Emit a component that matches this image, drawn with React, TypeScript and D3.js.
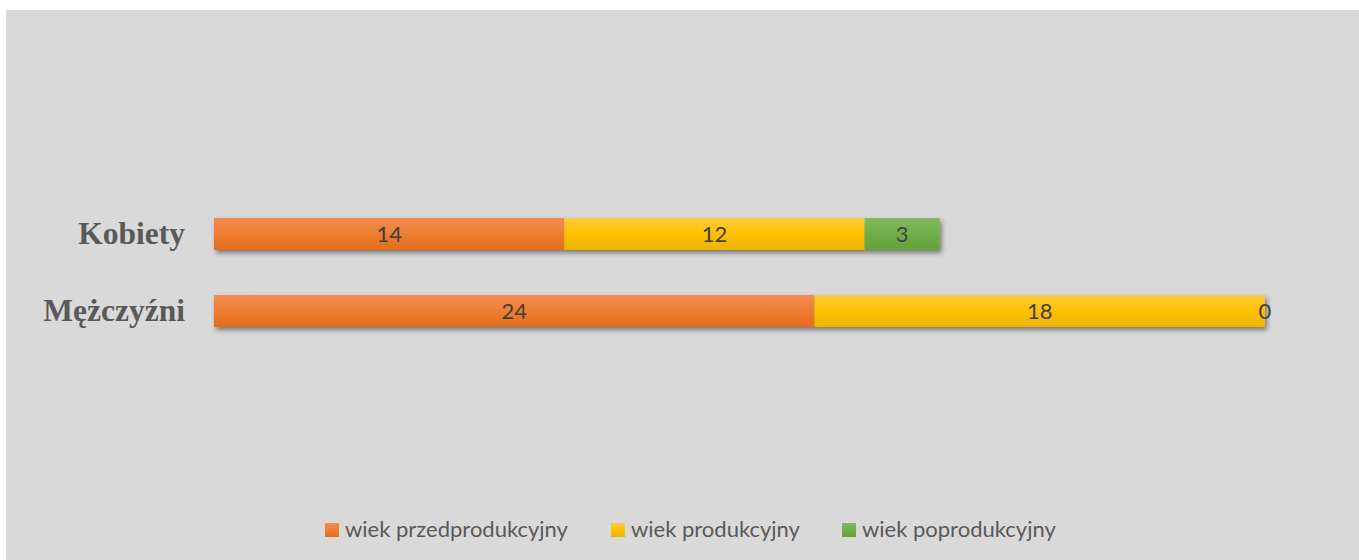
import { useEffect, useRef } from "react";
import * as d3 from "d3";

const categories = ["Kobiety", "Mężczyźni"];
const seriesNames = ["wiek przedprodukcyjny", "wiek produkcyjny", "wiek poprodukcyjny"];
const przedprodukcyjny = [14, 24];
const produkcyjny = [12, 18];
const poprodukcyjny = [3, 0];

const colors = ["#ed7d31", "#ffc000", "#70ad47"];
const lightColors = ["#f48c4f", "#ffcb3e", "#80b95e"];
const darkColors = ["#e36c1e", "#ecb300", "#63a23a"];

const W = 1359;
const H = 560;

const App = () => {
  const svgRef = useRef<SVGSVGElement | null>(null);

  useEffect(() => {
    const svg = d3.select(svgRef.current);
    svg.selectAll("*").remove();

    svg
      .append("rect")
      .attr("x", 6)
      .attr("y", 10)
      .attr("width", W - 6)
      .attr("height", H - 10)
      .attr("fill", "#d9d9d9");

    const defs = svg.append("defs");
    colors.forEach((c, i) => {
      const g = defs
        .append("linearGradient")
        .attr("id", `grad${i}`)
        .attr("x1", 0)
        .attr("y1", 0)
        .attr("x2", 0)
        .attr("y2", 1);
      g.append("stop").attr("offset", "0%").attr("stop-color", lightColors[i]);
      g.append("stop").attr("offset", "50%").attr("stop-color", c);
      g.append("stop").attr("offset", "100%").attr("stop-color", darkColors[i]);
    });
    const filter = defs
      .append("filter")
      .attr("id", "shadow")
      .attr("x", "-5%")
      .attr("y", "-30%")
      .attr("width", "110%")
      .attr("height", "180%");
    filter
      .append("feDropShadow")
      .attr("dx", 2)
      .attr("dy", 3)
      .attr("stdDeviation", 2.5)
      .attr("flood-color", "#000")
      .attr("flood-opacity", 0.45);

    const values = [przedprodukcyjny, produkcyjny, poprodukcyjny];
    const stack = d3
      .stack<number>()
      .keys(seriesNames.map((_, i) => String(i)))
      .value((d, key) => values[+key][d]);
    const stacked = stack(categories.map((_, i) => i));

    const x = d3.scaleLinear().domain([0, 42]).range([214, 1265]);
    const y = d3
      .scaleBand()
      .domain(categories)
      .range([195.5, 349.5])
      .paddingInner(45 / 77)
      .paddingOuter(45 / 77 / 2);

    const barsG = svg.append("g");
    categories.forEach((cat, ci) => {
      const row = barsG.append("g").attr("filter", "url(#shadow)");
      stacked.forEach((s, si) => {
        const d = s[ci];
        row
          .append("rect")
          .attr("x", x(d[0]))
          .attr("y", y(cat)!)
          .attr("width", x(d[1]) - x(d[0]))
          .attr("height", y.bandwidth())
          .attr("fill", `url(#grad${si})`);
      });
    });

    // data labels
    stacked.forEach((s) => {
      s.forEach((d, ci) => {
        barsG
          .append("text")
          .attr("x", (x(d[0]) + x(d[1])) / 2)
          .attr("y", y(categories[ci])! + y.bandwidth() / 2)
          .attr("dy", "0.35em")
          .attr("text-anchor", "middle")
          .attr("font-family", "Lato, 'Open Sans', sans-serif")
          .attr("font-size", 22)
          .attr("fill", "#404040")
          .text(d[1] - d[0]);
      });
    });

    // category labels
    svg
      .append("g")
      .selectAll("text")
      .data(categories)
      .enter()
      .append("text")
      .attr("x", 185)
      .attr("y", (d) => y(d)! + y.bandwidth() / 2)
      .attr("dy", "0.33em")
      .attr("text-anchor", "end")
      .attr("font-family", "'Liberation Serif', 'Times New Roman', serif")
      .attr("font-weight", "bold")
      .attr("font-size", 31.5)
      .attr("fill", "#595959")
      .text((d) => d);

    // legend
    const legendX = [325, 611, 842];
    const legend = svg.append("g");
    seriesNames.forEach((name, i) => {
      legend
        .append("rect")
        .attr("x", legendX[i])
        .attr("y", 523)
        .attr("width", 14)
        .attr("height", 14)
        .attr("fill", `url(#grad${i})`);
      legend
        .append("text")
        .attr("x", legendX[i] + 20)
        .attr("y", 537)
        .attr("font-family", "Lato, 'Open Sans', sans-serif")
        .attr("font-size", 22)
        .attr("fill", "#595959")
        .text(name);
    });
  }, []);

  return (
    <svg
      ref={svgRef}
      width={W}
      height={H}
      style={{ position: "absolute", left: 0, top: 0 }}
    ></svg>
  );
};

export default App;
